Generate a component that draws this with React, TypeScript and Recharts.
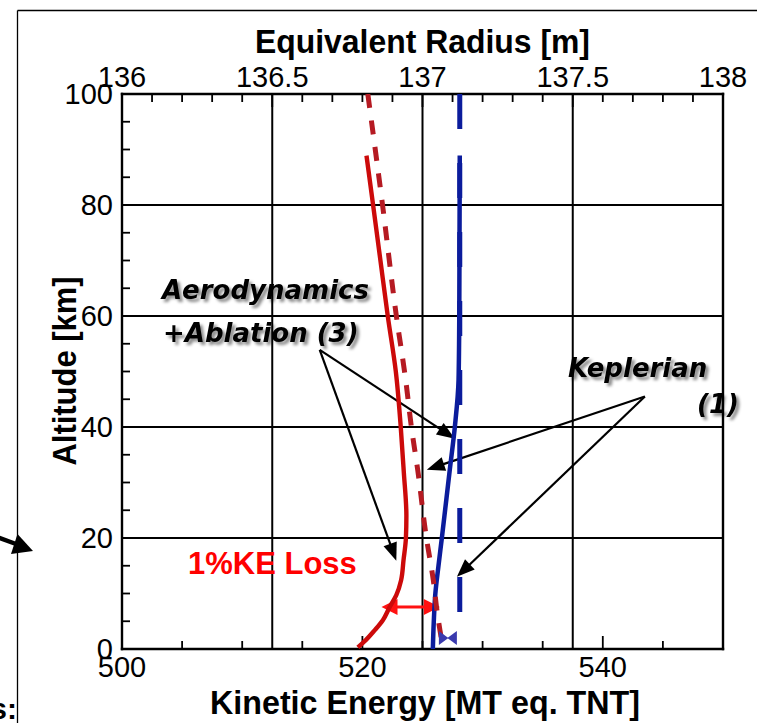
import React from 'react';
import { ScatterChart, Scatter, XAxis, YAxis, ReferenceLine } from 'recharts';

const W = 757;
const H = 723;

// Aerodynamics + ablation, kinetic energy [MT] vs altitude [km]
const aeroAlt = [88.9, 80, 70, 60, 50, 40, 32, 24, 20, 16, 12.4, 9.7, 7.6, 5.2, 3.4, 1.6, 0.3];
const aeroKe = [520.34, 520.89, 521.5, 522.11, 522.78, 523.19, 523.44, 523.66, 523.62, 523.42, 523.22, 522.82, 522.28, 521.7, 521.03, 520.28, 519.62];

// Aerodynamics + ablation, equivalent radius [m] vs altitude
const aeroRAlt = [100, 80, 60, 48.5, 40, 32.3, 20, 12.4, 7, 3.4, 1.8];
const aeroR = [136.818, 136.867, 136.913, 136.944, 136.963, 136.984, 137.013, 137.036, 137.048, 137.058, 137.063];

// Keplerian, kinetic energy vs altitude
const kepAlt = [88.9, 60, 48.5, 40, 32.3, 20, 15, 10, 5, 0];
const kepKe = [528.1, 528.06, 528.0, 527.69, 527.27, 526.61, 526.33, 526.07, 525.94, 525.86];

// Keplerian, equivalent radius vs altitude
const kepRAlt = [100, 6.6];
const kepR = [137.124, 137.124];

// end marker near the ground
const groundMark = [{ x: 527.11, y: 1.98 }];

// 1% KE loss span at 7.6 km
const lossSpan = [{ x: 521.59, y: 7.57 }, { x: 526.44, y: 7.57 }];

// annotation arrows (tail -> tip) on the KE/altitude axes
const aeroTail = { x: 516.45, y: 53.9 };
const aeroTips = [{ x: 522.82, y: 15.9 }, { x: 527.69, y: 37.9 }];
const kepTail = { x: 543.5, y: 45.5 };
const kepTips = [{ x: 525.36, y: 32.3 }, { x: 527.86, y: 13.0 }];

const keTicks = [500, 505, 510, 515, 520, 525, 530, 535, 540, 545, 550];
const keLabels = [500, 520, 540];
const rTicks = [136, 136.1, 136.2, 136.3, 136.4, 136.5, 136.6, 136.7, 136.8, 136.9, 137, 137.1, 137.2, 137.3, 137.4, 137.5, 137.6, 137.7, 137.8, 137.9, 138];
const rLabels = [136, 136.5, 137, 137.5, 138];
const altTicks = [0, 5, 10, 15, 20, 25, 30, 35, 40, 45, 50, 55, 60, 65, 70, 75, 80, 85, 90, 95, 100];
const altLabels = [0, 20, 40, 60, 80, 100];
const rGrid = [136.5, 137, 137.5];
const altGrid = [20, 40, 60, 80];

const zip = (xs: number[], ys: number[]) => xs.map((x, i) => ({ x, y: ys[i] }));

const SANS = '"Liberation Sans", Arial, Helvetica, sans-serif';
const tickText = { fontFamily: SANS, fontSize: 29, fill: '#000' };
const frameLine = { stroke: '#000', strokeWidth: 2.4, strokeLinecap: 'square' as const };
const MAJOR = 13;
const MINOR = 8;

// axis labels only; x/y arrive on the axis line
const BottomTick = ({ x, y, payload }: any) =>
  keLabels.includes(payload.value) ? (
    <text x={x} y={y + 28} textAnchor="middle" {...tickText}>{payload.value}</text>
  ) : <g />;

const TopTick = ({ x, y, payload }: any) =>
  rLabels.includes(payload.value) ? (
    <text x={x} y={y - 7} textAnchor="middle" {...tickText}>{payload.value}</text>
  ) : <g />;

const LeftTick = ({ x, y, payload }: any) =>
  altLabels.includes(payload.value) ? (
    <text x={x - 9} y={y + 10.4} textAnchor="end" {...tickText}>{payload.value}</text>
  ) : <g />;

// inward tick marks: draw only a short stub at the frame end of a reference line
const stub = (side: 'top' | 'bottom' | 'left', len: number) => (p: any) => {
  const { x1, y1, x2, y2 } = p;
  if (side === 'bottom') {
    const yb = Math.max(y1, y2);
    return <line x1={x1} x2={x1} y1={yb} y2={yb - len} stroke="#000" strokeWidth={1.8} />;
  }
  if (side === 'top') {
    const yt = Math.min(y1, y2);
    return <line x1={x1} x2={x1} y1={yt} y2={yt + len} stroke="#000" strokeWidth={1.8} />;
  }
  const xl = Math.min(x1, x2);
  return <line x1={xl} x2={xl + len} y1={y1} y2={y1} stroke="#000" strokeWidth={1.8} />;
};

const headPoints = (tx: number, ty: number, ux: number, uy: number, len: number, half: number) => {
  const bx = tx - ux * len;
  const by = ty - uy * len;
  return `${tx},${ty} ${bx - uy * half},${by + ux * half} ${bx + uy * half},${by - ux * half}`;
};

const arrowShape = (color: string, width: number, len: number, half: number, both = false) => (p: any) => {
  const { x1, y1, x2, y2 } = p;
  const d = Math.hypot(x2 - x1, y2 - y1) || 1;
  const ux = (x2 - x1) / d;
  const uy = (y2 - y1) / d;
  const sx = both ? x1 + ux * (len - 2) : x1;
  const sy = both ? y1 + uy * (len - 2) : y1;
  return (
    <g>
      <line x1={sx} y1={sy} x2={x2 - ux * (len - 2)} y2={y2 - uy * (len - 2)} stroke={color} strokeWidth={width} />
      <polygon points={headPoints(x2, y2, ux, uy, len, half)} fill={color} />
      {both && <polygon points={headPoints(x1, y1, -ux, -uy, len, half)} fill={color} />}
    </g>
  );
};

const blackArrow = arrowShape('#000', 2.2, 18, 7);
const redArrow = arrowShape('#ff1111', 3, 16, 8, true);

// two triangles meeting at the point
const BowTie = ({ cx, cy }: any) => (
  <g fill="#3a3aae">
    <polygon points={`${cx - 9},${cy - 7} ${cx + 0.5},${cy} ${cx - 9},${cy + 7}`} />
    <polygon points={`${cx + 9},${cy - 7} ${cx - 0.5},${cy} ${cx + 9},${cy + 7}`} />
  </g>
);

const noDot = () => <g />;

const NOTE = {
  fontFamily: '"DejaVu Sans", Verdana, sans-serif',
  fontWeight: 700,
  fontStyle: 'italic' as const,
  fontSize: 26,
  fill: '#000',
};

export default function App() {
  return (
    <div style={{ position: 'fixed', left: 0, top: 0, width: W, height: H, background: '#fff' }}>
      <ScatterChart width={W} height={H} margin={{ top: 54, right: 4, bottom: 34, left: 62 }}>
        <XAxis
          xAxisId="ke"
          type="number"
          dataKey="x"
          orientation="bottom"
          domain={[500, 550]}
          ticks={keTicks}
          interval={0}
          height={40}
          tickSize={0}
          tickMargin={0}
          tickLine={false}
          tick={<BottomTick />}
          axisLine={frameLine}
          allowDataOverflow
        />
        <XAxis
          xAxisId="r"
          type="number"
          dataKey="x"
          orientation="top"
          domain={[136, 138]}
          ticks={rTicks}
          interval={0}
          height={40}
          tickSize={0}
          tickMargin={0}
          tickLine={false}
          tick={<TopTick />}
          axisLine={frameLine}
          allowDataOverflow
        />
        <YAxis
          yAxisId="alt"
          type="number"
          dataKey="y"
          orientation="left"
          domain={[0, 100]}
          ticks={altTicks}
          interval={0}
          width={60}
          tickSize={0}
          tickMargin={0}
          tickLine={false}
          tick={<LeftTick />}
          axisLine={frameLine}
          allowDataOverflow
        />
        <YAxis
          yAxisId="altR"
          type="number"
          dataKey="y"
          orientation="right"
          domain={[0, 100]}
          width={30}
          tickLine={false}
          tick={false}
          axisLine={frameLine}
          allowDataOverflow
        />

        {rGrid.map((v) => (
          <ReferenceLine key={`gx${v}`} xAxisId="r" yAxisId="alt" x={v} stroke="#000" strokeWidth={2} />
        ))}
        {altGrid.map((v) => (
          <ReferenceLine key={`gy${v}`} xAxisId="ke" yAxisId="alt" y={v} stroke="#000" strokeWidth={2} />
        ))}
        {keTicks.map((v) => (
          <ReferenceLine key={`tb${v}`} xAxisId="ke" yAxisId="alt" x={v}
            shape={stub('bottom', keLabels.includes(v) ? MAJOR : MINOR)} />
        ))}
        {rTicks.map((v) => (
          <ReferenceLine key={`tt${v}`} xAxisId="r" yAxisId="alt" x={v}
            shape={stub('top', rLabels.includes(v) ? MAJOR : MINOR)} />
        ))}
        {altTicks.map((v) => (
          <ReferenceLine key={`tl${v}`} xAxisId="ke" yAxisId="alt" y={v}
            shape={stub('left', altLabels.includes(v) ? MAJOR : MINOR)} />
        ))}

        <Scatter
          xAxisId="r"
          yAxisId="alt"
          data={zip(kepR, kepRAlt)}
          line={{ stroke: '#0b1c9c', strokeWidth: 5, strokeDasharray: '35 34' }}
          shape={noDot}
          isAnimationActive={false}
        />
        <Scatter
          xAxisId="ke"
          yAxisId="alt"
          data={zip(kepKe, kepAlt)}
          line={{ stroke: '#0b1c9c', strokeWidth: 4.5 }}
          lineJointType="monotoneY"
          shape={noDot}
          isAnimationActive={false}
        />
        <Scatter
          xAxisId="r"
          yAxisId="alt"
          data={zip(aeroR, aeroRAlt)}
          line={{ stroke: '#b51a22', strokeWidth: 5, strokeDasharray: '14 12.7' }}
          lineJointType="monotoneY"
          shape={noDot}
          isAnimationActive={false}
        />
        <Scatter
          xAxisId="ke"
          yAxisId="alt"
          data={zip(aeroKe, aeroAlt)}
          line={{ stroke: '#cc0a0a', strokeWidth: 4.4 }}
          lineJointType="monotoneY"
          shape={noDot}
          isAnimationActive={false}
        />
        <Scatter
          xAxisId="ke"
          yAxisId="alt"
          data={groundMark}
          shape={<BowTie />}
          isAnimationActive={false}
        />

        <ReferenceLine xAxisId="ke" yAxisId="alt" segment={lossSpan} shape={redArrow} />
        {aeroTips.map((t, i) => (
          <ReferenceLine key={`a${i}`} xAxisId="ke" yAxisId="alt" segment={[aeroTail, t]} shape={blackArrow} />
        ))}
        {kepTips.map((t, i) => (
          <ReferenceLine key={`k${i}`} xAxisId="ke" yAxisId="alt" segment={[kepTail, t]} shape={blackArrow} />
        ))}
      </ScatterChart>

      <svg width={W} height={H} style={{ position: 'absolute', left: 0, top: 0, pointerEvents: 'none' }}>
        <defs>
          <filter id="soft" x="-10%" y="-30%" width="130%" height="160%">
            <feDropShadow dx="3" dy="3" stdDeviation="1.8" floodColor="#000" floodOpacity="0.45" />
          </filter>
        </defs>

        {/* slide frame */}
        <line x1={17.5} y1={10.5} x2={W} y2={10.5} stroke="#000" strokeWidth={1.3} />
        <line x1={17.5} y1={10.5} x2={17.5} y2={H} stroke="#000" strokeWidth={1.3} />
        <line x1={-6} y1={536} x2={16} y2={544} stroke="#000" strokeWidth={4.5} />
        <polygon points="33,551 11,554 17.5,534" fill="#000" />
        <text x={17} y={719} textAnchor="end" fontFamily={SANS} fontWeight={700} fontSize={30}>s:</text>

        {/* axis titles */}
        <text x={422.5} y={53} textAnchor="middle" fontFamily={SANS} fontWeight={700} fontSize={34}
          textLength={335} lengthAdjust="spacingAndGlyphs">Equivalent Radius [m]</text>
        <text x={425} y={714} textAnchor="middle" fontFamily={SANS} fontWeight={700} fontSize={34}
          textLength={430} lengthAdjust="spacingAndGlyphs">Kinetic Energy [MT eq. TNT]</text>
        <text x={0} y={0} transform="translate(76 371) rotate(-90)" textAnchor="middle" fontFamily={SANS}
          fontWeight={700} fontSize={34} textLength={189} lengthAdjust="spacingAndGlyphs">Altitude [km]</text>

        {/* curve notes */}
        <g filter="url(#soft)">
          <text x={162} y={299} {...NOTE}>Aerodynamics</text>
          <text x={163} y={342} {...NOTE}>+Ablation (3)</text>
          <text x={568} y={377} {...NOTE}>Keplerian</text>
          <text x={697} y={413} {...NOTE}>(1)</text>
        </g>
        <text x={188} y={574} fontFamily={SANS} fontWeight={700} fontSize={31} fill="#ff0000">1%KE Loss</text>
      </svg>
    </div>
  );
}
